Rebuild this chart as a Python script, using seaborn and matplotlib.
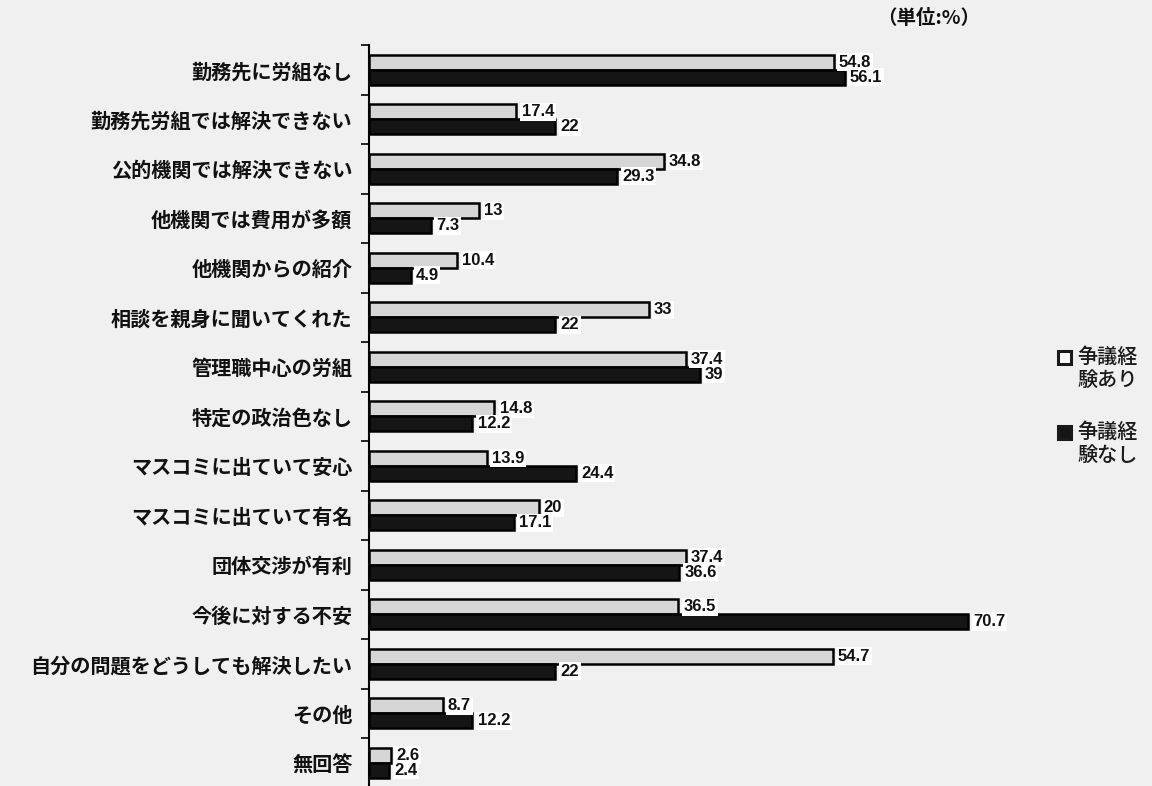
import numpy as np
import pandas as pd
import seaborn as sns
import matplotlib.pyplot as plt
from matplotlib.patches import Rectangle

# 相談先を選んだ理由（複数回答）
categories = [
    "勤務先に労組なし",
    "勤務先労組では解決できない",
    "公的機関では解決できない",
    "他機関では費用が多額",
    "他機関からの紹介",
    "相談を親身に聞いてくれた",
    "管理職中心の労組",
    "特定の政治色なし",
    "マスコミに出ていて安心",
    "マスコミに出ていて有名",
    "団体交渉が有利",
    "今後に対する不安",
    "自分の問題をどうしても解決したい",
    "その他",
    "無回答",
]
with_dispute = [54.8, 17.4, 34.8, 13, 10.4, 33, 37.4, 14.8, 13.9, 20, 37.4, 36.5, 54.7, 8.7, 2.6]
without_dispute = [56.1, 22, 29.3, 7.3, 4.9, 22, 39, 12.2, 24.4, 17.1, 36.6, 70.7, 22, 12.2, 2.4]
series = ["争議経験あり", "争議経験なし"]
legend_lines = [("争議経", "験あり"), ("争議経", "験なし")]
value_labels = [[f"{v:g}" for v in with_dispute], [f"{v:g}" for v in without_dispute]]

df = pd.DataFrame({
    "項目": categories * 2,
    "割合": with_dispute + without_dispute,
    "系列": [series[0]] * len(categories) + [series[1]] * len(categories),
})

PAGE = "#f0f0f0"
LIGHT = "#d6d6d6"
DARK = "#151515"
W, H = 1152, 786

sns.set_theme(style="white")
plt.rcParams["font.family"] = ["Noto Sans CJK JP", "DejaVu Sans"]

fig = plt.figure(figsize=(11.52, 7.86), dpi=100, facecolor=PAGE)
ax = fig.add_axes([369 / W, -1.5 / H, 640 / W, 742.5 / H])
ax.set_facecolor("none")

sns.barplot(data=df, y="項目", x="割合", hue="系列", orient="h",
            palette=[LIGHT, DARK], width=0.6, ax=ax, legend=False,
            edgecolor="black", linewidth=1.8, saturation=1)

ax.set_xlim(0, 75.5)
ax.set_ylim(len(categories) - 0.5, -0.5)
for side in ("top", "right", "bottom"):
    ax.spines[side].set_visible(False)
ax.spines["left"].set_color("black")
ax.spines["left"].set_linewidth(1.5)
ax.set_xticks([])
ax.set_xlabel("")
ax.set_ylabel("")

ax.set_yticks(np.arange(len(categories)))
ax.set_yticklabels(categories, fontsize=14.5, fontweight="bold", color="#111111")
ax.set_yticks(np.arange(-0.5, len(categories), 1), minor=True)
ax.tick_params(axis="y", which="major", length=0, pad=12)
ax.tick_params(axis="y", which="minor", length=6, width=1.2, color="black",
               direction="out", left=True)

num_font = ["Liberation Sans", "DejaVu Sans"]
for container, labels in zip(ax.containers, value_labels):
    for bar, lab in zip(container, labels):
        y = bar.get_y() + bar.get_height() / 2
        ax.text(bar.get_width() + 0.6, y, lab, va="center", ha="left",
                fontsize=12, fontweight="bold", family=num_font, color="#111111",
                bbox=dict(boxstyle="square,pad=0.1", fc="white", ec="none"))

fig.text(877 / W, 1 - 18 / H, "（単位:%）", fontsize=14, fontweight="bold",
         ha="left", va="center", color="#111111")

# legend keys and two-line labels
for (line1, line2), ytop, face in zip(legend_lines, (357, 432), ("white", DARK)):
    fig.patches.append(Rectangle(((1058) / W, 1 - (ytop + 7) / H), 13 / W, 13 / H,
                                 transform=fig.transFigure, facecolor=face,
                                 edgecolor="#1a1a1a", linewidth=2.2))
    fig.text(1077 / W, 1 - ytop / H, line1, fontsize=14.5, fontweight="medium",
             ha="left", va="center", color="#1a1a1a")
    fig.text(1077 / W, 1 - (ytop + 23) / H, line2, fontsize=14.5, fontweight="medium",
             ha="left", va="center", color="#1a1a1a")

fig.savefig("out.png", dpi=100, facecolor=PAGE)
